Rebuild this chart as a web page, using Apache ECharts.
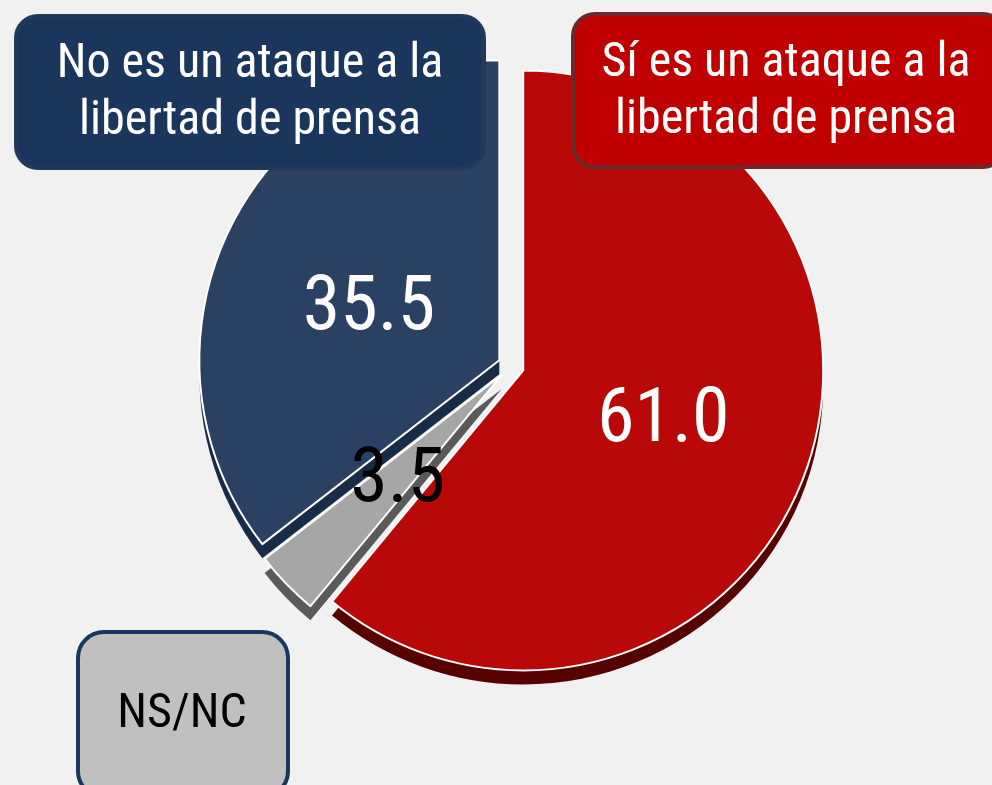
<!DOCTYPE html>
<html>
<head>
<meta charset="utf-8">
<script src="https://cdn.jsdelivr.net/npm/echarts@6/dist/echarts.min.js"></script>
<style>
  html, body { margin: 0; padding: 0; background: #f1f1f1; }
  #main { width: 992px; height: 785px; }
</style>
</head>
<body>
<div id="main"></div>
<script>
// datos de la encuesta
var categorias = ['Sí es un ataque a la\nlibertad de prensa', 'NS/NC', 'No es un ataque a la\nlibertad de prensa'];
var valores = [61.0, 3.5, 35.5];

var colores = ['#b80808', '#a6a6a6', '#2a4163'];
var coloresFondo = ['#560000', '#5a5a5a', '#182c48'];
var coloresLabel = ['#ffffff', '#000000', '#ffffff'];
// pequeños ajustes de posición de las etiquetas
var ajusteLabel = [[-4, 0], [6, 0], [7, 17]];

var fuente = "'Roboto Condensed', 'Liberation Sans Narrow', 'Arial Narrow', Roboto, sans-serif";

var myChart = echarts.init(document.getElementById('main'));

function datosPie(cols, conLabel) {
  return valores.map(function (v, i) {
    return {
      name: categorias[i],
      value: v,
      selected: true,
      itemStyle: { color: cols[i] },
      label: conLabel ? { color: coloresLabel[i] } : { show: false }
    };
  });
}

function caja(x, y, w, h, r, fill, stroke, texto, tx, ty, color) {
  return {
    type: 'group',
    children: [
      {
        type: 'rect', z: 100,
        shape: { x: x, y: y, width: w, height: h, r: r },
        style: { fill: fill, stroke: stroke, lineWidth: 4 }
      },
      {
        type: 'text', z: 101,
        x: tx, y: ty,
        style: {
          text: texto, fill: color, font: '48px ' + fuente,
          align: 'center', verticalAlign: 'middle', lineHeight: 57
        }
      }
    ]
  };
}

var option = {
  backgroundColor: '#f1f1f1',
  animation: false,
  series: [
    // "profundidad" 3D (capa de abajo)
    {
      type: 'pie',
      z: 1,
      center: [511, 380],
      radius: [0, 300],
      startAngle: 90,
      clockwise: true,
      selectedMode: 'multiple',
      selectedOffset: 13,
      silent: true,
      label: { show: false },
      labelLine: { show: false },
      itemStyle: { borderColor: 'rgba(0,0,0,0)', borderWidth: 0 },
      select: { itemStyle: { borderWidth: 0 } },
      emphasis: { disabled: true },
      data: datosPie(coloresFondo, false)
    },
    // cara superior
    {
      type: 'pie',
      z: 2,
      center: [511, 366],
      radius: [0, 300],
      startAngle: 90,
      clockwise: true,
      selectedMode: 'multiple',
      selectedOffset: 13,
      label: {
        show: true,
        position: 'inside',
        formatter: function (p) { return p.value.toFixed(1); },
        fontFamily: fuente,
        fontSize: 76
      },
      labelLayout: function (p) {
        var a = ajusteLabel[p.dataIndex];
        return { dx: a[0], dy: a[1] };
      },
      labelLine: { show: false },
      itemStyle: { borderColor: '#ffffff', borderWidth: 2 },
      select: { itemStyle: { borderColor: '#ffffff', borderWidth: 2 } },
      emphasis: { disabled: true },
      data: datosPie(colores, true)
    }
  ],
  graphic: [
    caja(16, 16, 468, 152, 22, '#1a365d', '#223a5a', categorias[2], 250, 93, '#ffffff'),
    caja(573, 14, 432, 153, 22, '#c00000', '#6b2a2a', categorias[0], 786, 92, '#ffffff'),
    caja(78, 632, 210, 165, 26, '#c0c0c0', '#17375e', categorias[1], 182, 715, '#000000')
  ]
};

myChart.setOption(option);
</script>
</body>
</html>
